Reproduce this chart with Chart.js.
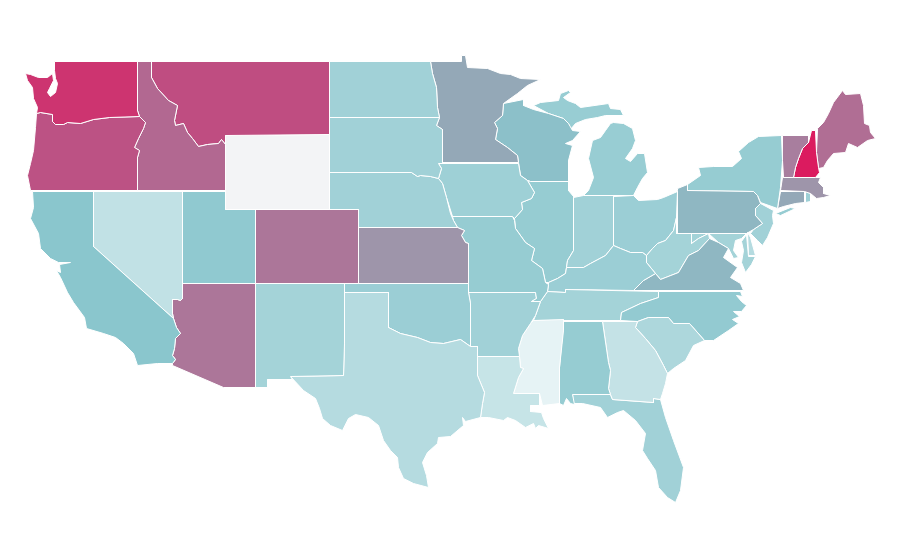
<!DOCTYPE html>
<html>
<head>
<meta charset="utf-8">
<title>US states</title>
<script src="https://cdn.jsdelivr.net/npm/chart.js@4"></script>
<style>
  html, body { margin: 0; background: #fff; }
  canvas { display: block; }
</style>
</head>
<body>
<canvas id="map" width="900" height="560"></canvas>
<script>
// state outlines in map units. a state can have more than one part
const WA = [[[54,61],[137,61],[137,110],[139,116],[109,117],[93,119],[80,123],[67,122],[63,124],[55,124],[52,121],[52,114],[40,112],[36,113],[37,107],[33,98],[32,87],[27,80],[25,73],[30,74],[38,77],[47,77],[52,73],[53,80],[49,88],[47,92],[50,96],[55,92],[57,83],[55,78],[54,70]]];
const OR = [[[36,113],[40,112],[52,114],[52,121],[55,124],[63,124],[67,122],[80,123],[93,119],[109,117],[139,116],[145,122],[143,128],[138,138],[134,147],[139,150],[137,157],[137,190],[30,190],[27,175],[30,163],[33,150],[35,127]]];
const ID = [[[137,61],[151,61],[151,77],[157,88],[168,100],[177,105],[174,120],[175,125],[183,123],[187,132],[192,138],[198,146],[207,144],[218,143],[221,139],[225,144],[225,190],[137,190],[137,157],[139,150],[134,147],[138,138],[143,128],[145,122],[139,116],[137,110]]];
const MT = [[[151,61],[329,61],[329,134],[225,135],[225,144],[221,139],[218,143],[207,144],[198,146],[192,138],[187,132],[183,123],[175,125],[174,120],[177,105],[168,100],[157,88],[151,77]]];
const WY = [[[225,135],[329,134],[329,209],[225,209]]];
const CA = [[[32,191],[93,191],[93,246],[173,318],[176,327],[180,333],[175,338],[174,348],[172,355],[175,359],[172,363],[157,363],[137,365],[133,353],[123,343],[115,337],[103,333],[86,328],[84,317],[73,302],[67,292],[60,277],[56,270],[60,272],[59,264],[70,262],[58,262],[50,258],[40,248],[38,233],[30,218],[33,207]]];
const NV = [[[93,191],[182,191],[182,298],[180,300],[177,299],[172,299],[172,313],[173,318],[93,246]]];
const UT = [[[182,191],[225,191],[225,209],[255,209],[255,283],[182,283]]];
const CO = [[[255,209],[358,209],[358,283],[255,283]]];
const AZ = [[[182,283],[255,283],[255,387],[223,387],[172,365],[172,363],[175,359],[172,355],[174,348],[175,338],[180,333],[176,327],[173,318],[172,313],[172,299],[177,299],[180,300],[182,298]]];
const NM = [[[255,283],[344,283],[344,343],[343,375],[290,376],[292,379],[267,379],[267,387],[255,387]]];
const TX = [[[344,292],[388,292],[388,327],[400,333],[417,337],[430,342],[443,343],[460,339],[470,346],[477,346],[477,375],[484,392],[482,403],[480,417],[465,421],[462,417],[463,425],[450,436],[438,437],[437,443],[427,452],[422,462],[426,475],[428,487],[413,483],[403,478],[398,467],[397,457],[390,450],[383,440],[378,425],[368,417],[355,414],[348,418],[342,430],[330,425],[322,418],[319,408],[315,398],[303,390],[290,376],[343,375],[344,343]]];
const ND = [[[329,61],[430,61],[432,73],[436,87],[437,107],[439,117],[329,117]]];
const SD = [[[329,117],[439,117],[436,125],[442,129],[442,163],[438,163],[441,168],[438,178],[430,176],[420,175],[417,176],[411,172],[329,172]]];
const NE = [[[329,172],[411,172],[417,176],[420,175],[430,176],[438,178],[442,183],[446,197],[450,213],[453,220],[457,227],[358,227],[358,209],[329,209]]];
const KS = [[[358,227],[457,227],[464,230],[461,235],[465,242],[468,243],[468,283],[358,283]]];
const OK = [[[344,283],[468,283],[468,292],[470,303],[470,346],[460,339],[443,343],[430,342],[417,337],[400,333],[388,327],[388,292],[344,292]]];
const MN = [[[430,61],[461,61],[461,55],[465,55],[467,67],[487,68],[500,73],[510,74],[520,78],[540,79],[527,85],[517,93],[503,103],[502,115],[494,122],[497,128],[495,139],[507,147],[517,155],[518,162],[442,162],[442,129],[436,125],[439,117],[437,107],[436,87],[432,73]]];
const IA = [[[442,163],[518,163],[520,175],[527,180],[534,192],[531,198],[521,202],[522,209],[514,218],[512,216],[452,216],[446,197],[442,183],[438,178],[441,168],[438,163]]];
const MO = [[[452,216],[512,216],[514,220],[515,228],[525,242],[534,248],[531,260],[542,268],[545,282],[548,284],[547,291],[540,301],[531,301],[536,298],[535,292],[468,292],[468,243],[465,242],[461,235],[464,230],[457,227],[453,220]]];
const AR = [[[468,292],[535,292],[536,298],[531,301],[540,301],[535,315],[530,323],[522,335],[518,348],[519,356],[477,356],[477,346],[470,346],[470,303]]];
const LA = [[[477,356],[519,356],[520,367],[523,368],[518,377],[513,393],[539,393],[539,405],[530,405],[530,411],[541,412],[543,418],[548,428],[538,425],[535,428],[533,423],[525,427],[515,420],[507,417],[503,420],[488,417],[480,417],[482,403],[484,392],[477,375]]];
const MS = [[[533,320],[563,319],[563,330],[559,367],[559,403],[542,405],[539,393],[513,393],[518,377],[523,368],[520,367],[519,356],[518,348],[522,335],[530,323]]];
const AL = [[[563,321],[602,321],[608,362],[610,370],[608,388],[610,394],[572,394],[574,404],[570,403],[566,398],[563,405],[559,403],[559,367]]];
const GA = [[[602,321],[637,321],[635,327],[645,338],[655,350],[663,365],[667,373],[665,383],[662,393],[660,399],[653,398],[653,402],[612,399],[610,394],[608,388],[610,370],[608,362]]];
const FL = [[[572,394],[610,394],[612,399],[653,402],[653,398],[660,399],[665,417],[673,440],[683,467],[680,490],[675,502],[667,497],[658,487],[655,470],[647,458],[642,450],[645,433],[635,420],[623,410],[617,412],[607,417],[600,407],[582,403],[573,403]]];
const SC = [[[637,321],[648,317],[668,317],[673,323],[689,323],[704,340],[693,345],[685,360],[673,368],[667,373],[663,365],[655,350],[645,338],[635,327]]];
const NC = [[[620,320],[621,312],[640,303],[658,297],[658,291],[740,291],[742,296],[736,295],[741,301],[746,305],[741,311],[733,311],[739,316],[732,319],[738,323],[728,330],[713,340],[704,340],[689,323],[673,323],[668,317],[648,317],[637,321]]];
const TN = [[[533,320],[535,315],[540,301],[547,291],[565,292],[565,289],[658,291],[658,297],[640,303],[621,312],[620,320]]];
const KY = [[[547,291],[548,284],[548,282],[557,278],[565,273],[566,267],[583,267],[590,263],[605,255],[613,245],[620,248],[630,252],[642,252],[646,255],[646,262],[655,273],[643,280],[633,290],[565,289],[565,292]]];
const VA = [[[633,290],[643,280],[655,273],[660,279],[678,272],[688,255],[698,250],[709,238],[718,242],[728,248],[723,257],[737,267],[730,277],[740,283],[743,290]]];
const WV = [[[646,255],[652,248],[657,243],[665,240],[673,230],[676,217],[676,233],[691,233],[691,243],[698,238],[708,233],[709,238],[698,250],[688,255],[678,272],[660,279],[655,273],[646,262]]];
const MD = [[[691,233],[746,233],[741,238],[735,240],[733,250],[738,257],[733,258],[728,248],[718,242],[708,233],[698,238],[691,243]],[[746,234],[748,256],[755,256],[751,264],[745,272],[741,262],[743,250],[741,241]]];
const DE = [[[747,232],[750,237],[755,255],[748,255]]];
const PA = [[[677,190],[677,188],[687,184],[687,190],[753,191],[757,195],[760,203],[755,208],[755,215],[762,223],[753,229],[746,233],[677,233]]];
const NJ = [[[760,203],[773,210],[772,215],[773,223],[767,237],[762,245],[757,240],[750,233],[753,229],[762,223],[755,215],[755,208]]];
const NY = [[[687,190],[687,184],[700,175],[698,167],[713,166],[732,166],[741,158],[738,151],[748,142],[758,136],[781,135],[782,160],[780,187],[777,208],[760,202],[757,195],[753,191]],[[775,213],[790,207],[795,208],[780,215]]];
const VT = [[[782,135],[808,135],[808,142],[802,148],[798,158],[795,167],[793,177],[783,177],[782,160]]];
const NH = [[[811,130],[815,130],[816,152],[818,167],[819,172],[815,177],[793,177],[795,167],[798,158],[802,148],[808,142]]];
const ME = [[[817,128],[823,122],[828,113],[833,102],[842,90],[845,94],[860,93],[863,105],[864,123],[869,125],[870,132],[875,138],[867,140],[857,147],[848,143],[845,152],[833,153],[827,160],[823,167],[818,168],[816,152]]];
const MA = [[[782,177],[820,177],[818,182],[823,187],[823,193],[830,195],[823,197],[816,198],[810,193],[804,191],[780,190]]];
const CT = [[[780,191],[804,191],[804,202],[795,203],[783,206],[777,208]]];
const RI = [[[805,191],[810,193],[810,201],[805,202]]];
const OH = [[[613,196],[633,195],[638,200],[657,199],[663,197],[677,191],[676,217],[673,230],[665,240],[657,243],[652,248],[646,255],[642,252],[630,252],[620,248],[613,245]]];
const IN = [[[573,197],[583,195],[613,195],[613,245],[605,255],[590,263],[583,267],[566,267],[567,260],[573,250]]];
const IL = [[[530,181],[568,181],[568,190],[573,196],[573,250],[567,260],[566,267],[565,273],[557,278],[548,282],[545,282],[542,268],[531,260],[534,248],[525,242],[515,228],[514,218],[522,209],[521,202],[531,198],[534,192],[527,180]]];
const WI = [[[503,103],[523,99],[523,105],[533,109],[548,113],[563,118],[568,123],[572,130],[580,131],[572,140],[565,143],[572,145],[568,160],[568,181],[530,181],[527,180],[520,175],[518,162],[517,155],[507,147],[495,139],[497,128],[494,122],[502,115]]];
const MI = [[[533,105],[540,102],[558,100],[560,93],[568,90],[570,92],[563,97],[567,100],[575,103],[580,107],[608,103],[610,108],[620,109],[623,115],[605,115],[597,117],[585,119],[575,123],[570,129],[568,123],[563,118],[548,113]],[[610,123],[613,122],[623,123],[632,128],[635,140],[632,148],[625,158],[630,161],[637,153],[644,153],[647,172],[642,178],[637,187],[633,195],[583,195],[588,190],[593,177],[588,158],[592,140],[600,137],[605,130]]];

// read off the shading, wyoming is the one without a value
const stateNames = ['Washington','Oregon','Idaho','Montana','Wyoming','California','Nevada','Utah','Colorado','Arizona','New Mexico','Texas','North Dakota','South Dakota','Nebraska','Kansas','Oklahoma','Minnesota','Iowa','Missouri','Arkansas','Louisiana','Mississippi','Alabama','Georgia','Florida','South Carolina','North Carolina','Tennessee','Kentucky','Virginia','West Virginia','Maryland','Delaware','Pennsylvania','New Jersey','New York','Vermont','New Hampshire','Maine','Massachusetts','Connecticut','Rhode Island','Ohio','Indiana','Illinois','Wisconsin','Michigan'];
const stateOutlines = [WA,OR,ID,MT,WY,CA,NV,UT,CO,AZ,NM,TX,ND,SD,NE,KS,OK,MN,IA,MO,AR,LA,MS,AL,GA,FL,SC,NC,TN,KY,VA,WV,MD,DE,PA,NJ,NY,VT,NH,ME,MA,CT,RI,OH,IN,IL,WI,MI];
const stateValues = [95,88,80,90,null,32,13,30,75,75,23,17,24,24,24,60,26,50,25,28,24,11,0,28,12,24,20,29,23,26,42,23,23,17,42,24,28,71,100,78,60,50,25,26,24,28,36,27];

// colour ramp
const rampStops = [0,32,42,50,60,75,90,100];
const rampColors = [[230,243,245],[138,198,205],[143,183,194],[148,168,183],[158,149,170],[172,118,153],[191,77,129],[219,27,95]];
const noDataColor = '#f3f4f6';

function colorFor(v) {
  if (v === null) return noDataColor;
  let i = 0;
  while (i < rampStops.length - 2 && v > rampStops[i + 1]) i++;
  const t = (v - rampStops[i]) / (rampStops[i + 1] - rampStops[i]);
  const c = rampColors[i].map((a, k) => Math.round(a + (rampColors[i + 1][k] - a) * t));
  return 'rgb(' + c.join(',') + ')';
}

const datasets = [];
stateOutlines.forEach((parts, i) => {
  parts.forEach(part => {
    datasets.push({
      label: stateNames[i],
      data: part.concat([part[0]]).map(p => ({ x: p[0], y: p[1] })), // closed ring
      showLine: true,
      fill: 'shape',
      tension: 0,
      backgroundColor: colorFor(stateValues[i]),
      borderColor: '#ffffff',
      borderWidth: 1,
      pointRadius: 0,
      pointHoverRadius: 0
    });
  });
});

new Chart(document.getElementById('map'), {
  type: 'scatter',
  data: { datasets: datasets },
  options: {
    responsive: false,
    animation: false,
    layout: { padding: 0 },
    plugins: { legend: { display: false }, title: { display: false }, tooltip: { enabled: false } },
    scales: {
      // half unit offset keeps the straight borders on one pixel row
      x: { display: false, min: -0.5, max: 899.5 },
      y: { display: false, min: -0.5, max: 559.5, reverse: true }
    }
  }
});
</script>
</body>
</html>
